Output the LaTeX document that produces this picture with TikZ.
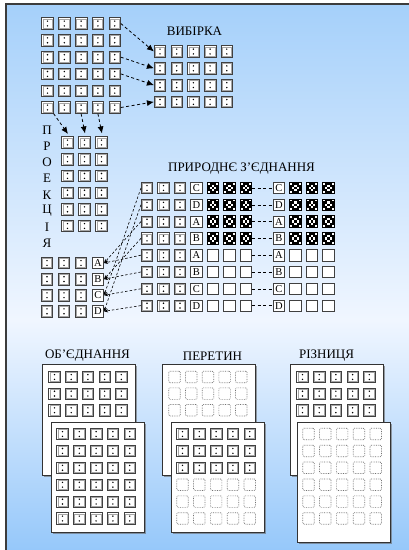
\documentclass[tikz,border=0pt]{standalone}
\usepackage{fontspec}
\setmainfont{Liberation Serif}
\usetikzlibrary{arrows.meta,calc,shadows}
\definecolor{bgtop}{RGB}{165,208,250}
\definecolor{bgmid}{RGB}{240,246,255}
\definecolor{bgbot}{RGB}{150,200,250}
\definecolor{framec}{RGB}{60,60,60}
\tikzset{
  cellbox/.style={rectangle, minimum size=11.5pt, inner sep=0pt, draw=black!75, line width=0.65pt, fill=white},
  dotcell/.style={cellbox, path picture={
      \draw[black!35, line width=0.5pt] ([shift={(1.1pt,1.1pt)}]path picture bounding box.south west) rectangle ([shift={(-1.1pt,-1.1pt)}]path picture bounding box.north east);
      \fill[black] ([yshift=2.4pt]path picture bounding box.center) circle (0.8pt);
      \fill[black] ([yshift=-2.4pt]path picture bounding box.center) circle (0.8pt);}},
  lettercell/.style={cellbox, font=\fontsize{10.5}{10.5}\selectfont},
  patcell/.style={cellbox, draw=black, line width=0.9pt, path picture={
      \fill[black] (path picture bounding box.south west) rectangle (path picture bounding box.north east);
      \foreach \a/\b in {1/2,2/1,2/3,3/2,0/0,4/4,0/4,4/0}{
        \fill[white] ([shift={(\a*2.3pt,\b*2.3pt)}]path picture bounding box.south west) rectangle ++(2.3pt,2.3pt);}}},
  ghost/.style={rectangle, minimum size=11.5pt, inner sep=0pt, draw=black!55, densely dotted, line width=0.7pt, rounded corners=1.2pt, fill=white},
  page/.style={rectangle, anchor=north west, inner sep=0pt, minimum width=93pt, fill=white, draw=black!80, line width=0.7pt,
      drop shadow={shadow xshift=1.2pt, shadow yshift=-1.2pt, opacity=0.6, fill=black!60}},
  title/.style={font=\fontsize{13}{13}\selectfont, inner sep=0pt},
  bigarrow/.style={line width=0.8pt, dash pattern=on 3pt off 2.5pt, -{Latex[length=7pt,width=6pt]}},
  smallarrow/.style={line width=0.6pt, dash pattern=on 2.5pt off 2pt, -{Stealth[length=4pt,width=3.5pt]}},
  link/.style={line width=0.6pt, dash pattern=on 3pt off 2.5pt},
}
\begin{document}
\begin{tikzpicture}[x=1pt,y=-1pt]
\useasboundingbox (0,0) rectangle (409,550);
% background slide
\fill[white] (0,0) rectangle (409,550);
\shade[top color=bgtop, bottom color=bgmid] (6,4) rectangle (409,320);
\shade[top color=bgmid, bottom color=bgbot] (6,320) rectangle (409,550);
\draw[framec, line width=1.2pt] (409,4) -- (6,4) -- (6,550);

% source table
\foreach \j in {0,...,5}{\foreach \i in {0,...,4}{
  \node[dotcell] (t\j\i) at ({47.5+16.8*\i},{23.5+16.8*\j}) {};}}

% selection
\node[title] (selT) at (194.5,31) {ВИБІРКА};
\foreach \j in {0,...,3}{\foreach \i in {0,...,4}{
  \node[dotcell] (s\j\i) at ({160+16.7*\i},{51.5+16.8*\j}) {};}}
\draw[bigarrow] (t04.east) -- (s00.west);
\draw[bigarrow] (t24.east) -- (s10.west);
\draw[bigarrow] (t34.east) -- (s20.west);
\draw[bigarrow] (t54.east) -- (s30.west);

% projection
\foreach \ch [count=\k from 0] in {П,Р,О,Е,К,Ц,І,Я}{
  \node[title] (v\k) at (47,{130+16.2*\k}) {\ch};}
\foreach \j in {0,...,5}{\foreach \i in {0,...,2}{
  \node[dotcell] (p\j\i) at ({67.5+17*\i},{142.5+16.7*\j}) {};}}
\draw[bigarrow, shorten >=3pt] (t50.south east) -- (p00.70);
\draw[bigarrow, shorten >=3pt] (t52.south) -- (p01.80);
\draw[bigarrow, shorten >=3pt] (t53.south) -- (p02.80);

% natural join
\node[title] (joinT) at (241.5,169) {ПРИРОДНЄ З’ЄДНАННЯ};
\foreach \L [count=\j from 0] in {C,D,A,B,A,B,C,D}{
  \pgfmathsetmacro\yy{188+16.8*\j}
  \foreach \i in {0,1,2}{\node[dotcell] (j\j\i) at ({147+16.5*\i},\yy) {};}
  \node[lettercell] (j\j3) at (196.5,\yy) {\L};
  \node[lettercell] (r\j0) at (279,\yy) {\L};
}
\foreach \j in {0,...,3}{
  \pgfmathsetmacro\yy{188+16.8*\j}
  \foreach \i in {4,5,6}{\node[patcell] (j\j\i) at ({147+16.5*\i},\yy) {};}
  \foreach \i in {1,2,3}{\node[patcell] (r\j\i) at ({279+16.5*\i},\yy) {};}
}
\foreach \j in {4,...,7}{
  \pgfmathsetmacro\yy{188+16.8*\j}
  \foreach \i in {4,5,6}{\node[cellbox] (j\j\i) at ({147+16.5*\i},\yy) {};}
  \foreach \i in {1,2,3}{\node[cellbox] (r\j\i) at ({279+16.5*\i},\yy) {};}
}
\foreach \j in {0,...,7}{\draw[link] (j\j6.east) -- (r\j0.west);}

% second table
\foreach \L [count=\j from 0] in {A,B,C,D}{
  \pgfmathsetmacro\yy{263+16.1*\j}
  \foreach \i in {0,1,2}{\node[dotcell] (l\j\i) at ({47+17*\i},\yy) {};}
  \node[lettercell] (l\L) at (98,\yy) {\L};
}
\foreach \j/\L in {0/C,1/D,2/A,3/B,4/A,5/B,6/C,7/D}{
  \draw[smallarrow] (j\j0.west) -- (l\L.east);}

% union
\node[title] (uT) at (87.5,356) {ОБ’ЄДНАННЯ};
\node[page, minimum height=111pt] (ub) at (42,364) {};
\foreach \j in {0,1,2}{\foreach \i in {0,...,4}{
  \node[dotcell] (ub\j\i) at ({54.5+16.7*\i},{377+16.6*\j}) {};}}
\node[page, minimum height=110pt] (uf) at (51,422) {};
\foreach \j in {0,...,5}{\foreach \i in {0,...,4}{
  \node[dotcell] (uf\j\i) at ({62.5+16.8*\i},{434+16.9*\j}) {};}}

% intersection
\node[title] (iT) at (212.5,356) {ПЕРЕТИН};
\node[page, minimum height=111pt] (ib) at (162,364) {};
\foreach \j in {0,1,2}{\foreach \i in {0,...,4}{
  \node[ghost] (ib\j\i) at ({174.5+16.7*\i},{377+16.6*\j}) {};}}
\node[page, minimum height=110pt] (if) at (171,422) {};
\foreach \j in {0,1,2}{\foreach \i in {0,...,4}{
  \node[dotcell] (if\j\i) at ({182.5+16.8*\i},{434+16.9*\j}) {};}}
\foreach \j in {3,4,5}{\foreach \i in {0,...,4}{
  \node[ghost] (if\j\i) at ({182.5+16.8*\i},{434+16.9*\j}) {};}}

% difference
\node[title] (dT) at (326.5,356) {РІЗНИЦЯ};
\node[page, minimum height=111pt] (db) at (290,364) {};
\foreach \j in {0,1,2}{\foreach \i in {0,...,4}{
  \node[dotcell] (db\j\i) at ({302.5+16.7*\i},{377+16.6*\j}) {};}}
\node[page, minimum height=120pt] (df) at (297,422) {};
\foreach \j in {0,...,5}{\foreach \i in {0,...,4}{
  \node[ghost] (df\j\i) at ({308.5+16.8*\i},{434+16.9*\j}) {};}}
\end{tikzpicture}
\end{document}
